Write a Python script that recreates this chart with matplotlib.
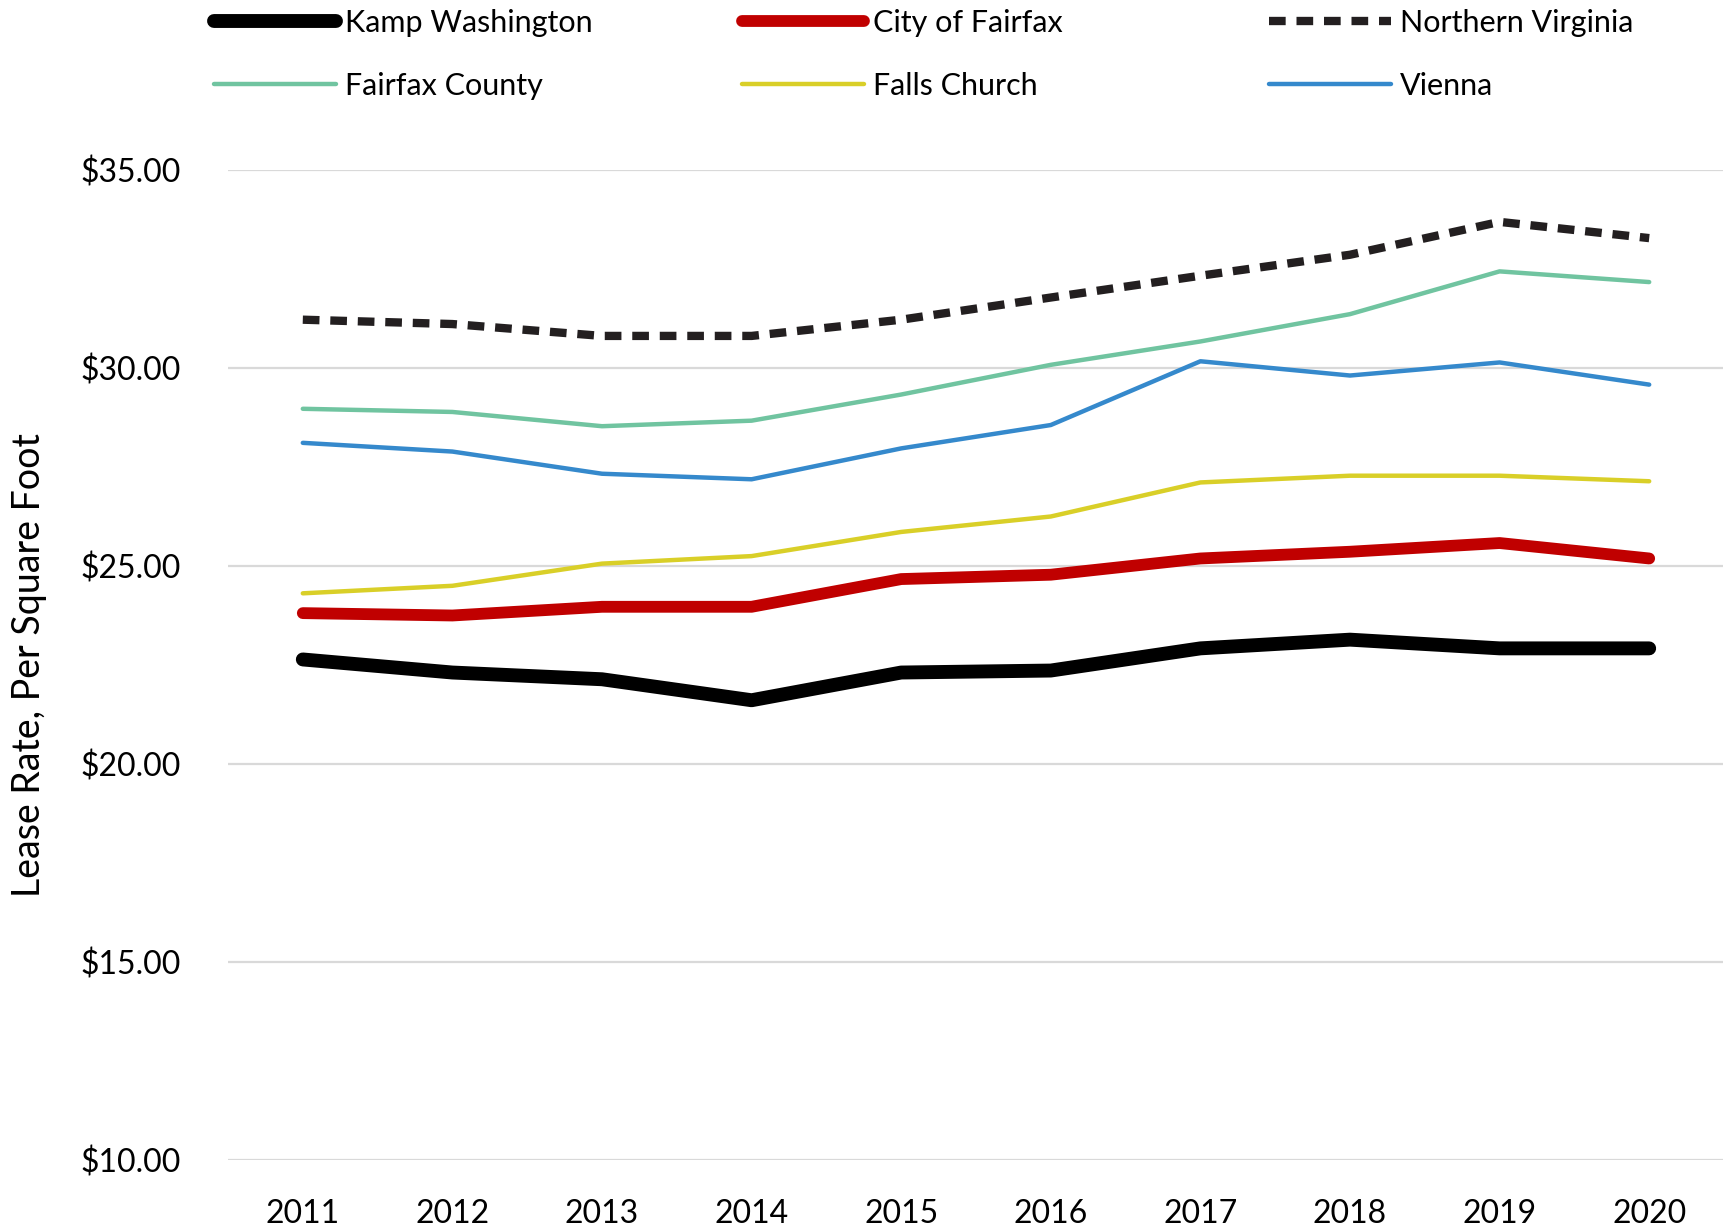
import matplotlib
matplotlib.use("Agg")
import matplotlib.pyplot as plt

plt.rcParams['font.family'] = ['Lato', 'DejaVu Sans']

years = ['2011', '2012', '2013', '2014', '2015', '2016', '2017', '2018', '2019', '2020']
kamp_washington = [22.64, 22.31, 22.14, 21.61, 22.31, 22.36, 22.92, 23.14, 22.92, 22.92]
city_of_fairfax = [23.81, 23.75, 23.97, 23.97, 24.67, 24.78, 25.19, 25.36, 25.58, 25.19]
northern_virginia = [31.22, 31.11, 30.81, 30.81, 31.22, 31.78, 32.33, 32.86, 33.69, 33.28]
fairfax_county = [28.97, 28.89, 28.53, 28.67, 29.33, 30.08, 30.67, 31.36, 32.44, 32.17]
falls_church = [24.31, 24.50, 25.06, 25.25, 25.86, 26.25, 27.11, 27.28, 27.28, 27.14]
vienna = [28.11, 27.89, 27.33, 27.19, 27.97, 28.56, 30.17, 29.81, 30.14, 29.58]
y_ticks = [10, 15, 20, 25, 30, 35]
y_tick_labels = ['$10.00', '$15.00', '$20.00', '$25.00', '$30.00', '$35.00']

fig = plt.figure(figsize=(17.24, 12.30), dpi=100)
ax = fig.add_axes([228/1724, 70/1230, 1496/1724, 990/1230])
x = list(range(len(years)))

round_kw = dict(solid_capstyle='round', solid_joinstyle='round')
l_kamp, = ax.plot(x, kamp_washington, color='#000000', lw=10, label='Kamp Washington', zorder=5, **round_kw)
l_city, = ax.plot(x, city_of_fairfax, color='#C00000', lw=8.5, label='City of Fairfax', zorder=5, **round_kw)
l_nova, = ax.plot(x, northern_virginia, color='#231F20', lw=6, dashes=(2.0, 1.3),
                  dash_capstyle='butt', label='Northern Virginia', zorder=5)
l_fc, = ax.plot(x, fairfax_county, color='#70C4A0', lw=3.2, label='Fairfax County', zorder=5, **round_kw)
l_fch, = ax.plot(x, falls_church, color='#D9CF28', lw=3.2, label='Falls Church', zorder=5, **round_kw)
l_vi, = ax.plot(x, vienna, color='#3589CC', lw=3.2, label='Vienna', zorder=5, **round_kw)

ax.set_xlim(-0.5, len(years) - 0.5)
ax.set_ylim(10, 35)
ax.set_xticks(x)
ax.set_xticklabels(years)
ax.set_yticks(y_ticks)
ax.set_yticklabels(y_tick_labels)
ax.tick_params(axis='both', length=0, labelsize=23)
ax.tick_params(axis='y', pad=34)
ax.tick_params(axis='x', pad=28)
ax.grid(axis='y', color='#D9D9D9', lw=1.6)
ax.set_axisbelow(True)
for s in ax.spines.values():
    s.set_visible(False)
ax.set_ylabel('Lease Rate, Per Square Foot', fontsize=27)
ax.yaxis.set_label_coords(-0.121, 0.5)

leg_kw = dict(loc='upper left', frameon=False, fontsize=22, handlelength=4.0,
              handletextpad=0.3, labelspacing=1.13, borderpad=0, borderaxespad=0)
top = 1 - 9/1230
fig.legend(handles=[l_kamp, l_fc], bbox_to_anchor=(214/1724, top), **leg_kw)
fig.legend(handles=[l_city, l_fch], bbox_to_anchor=(742/1724, top), **leg_kw)
fig.legend(handles=[l_nova, l_vi], bbox_to_anchor=(1269/1724, top), **leg_kw)

fig.savefig('out.png', dpi=100)
